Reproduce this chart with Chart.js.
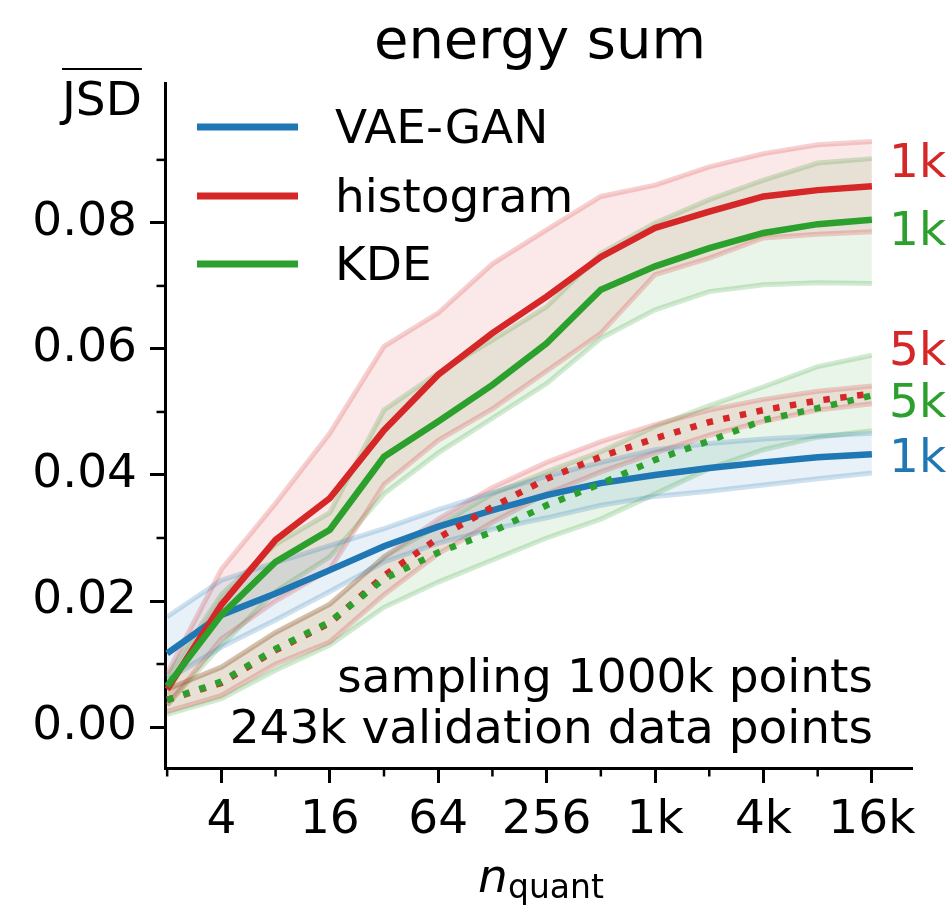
<!DOCTYPE html>
<html>
<head>
<meta charset="utf-8">
<script src="https://cdn.jsdelivr.net/npm/chart.js@4.4.1/dist/chart.umd.min.js"></script>
<style>
  body { margin: 0; background: #fff; }
  canvas { display: block; }
</style>
</head>
<body>
<canvas id="chart" width="947" height="905"></canvas>
<script>
// n_quant values (powers of two)
const nQuant = [2, 4, 8, 16, 32, 64, 128, 256, 512, 1024, 2048, 4096, 8192, 16384];

// VAE-GAN, 1k
const vaeMean  = [0.0117, 0.0178, 0.0212, 0.0249, 0.0287, 0.0318, 0.0344, 0.0368, 0.0387, 0.0400, 0.0411, 0.0420, 0.0428, 0.0433];
const vaeUpper = [0.0175, 0.0233, 0.0261, 0.0288, 0.0315, 0.0345, 0.0372, 0.0398, 0.0420, 0.0440, 0.0450, 0.0457, 0.0462, 0.0466];
const vaeLower = [0.0075, 0.0127, 0.0170, 0.0215, 0.0262, 0.0292, 0.0314, 0.0332, 0.0352, 0.0366, 0.0374, 0.0384, 0.0394, 0.0403];

// histogram, 1k
const hist1kMean  = [0.0060, 0.0194, 0.0297, 0.0363, 0.0471, 0.0559, 0.0625, 0.0683, 0.0746, 0.0792, 0.0818, 0.0842, 0.0852, 0.0858];
const hist1kUpper = [0.0085, 0.0250, 0.0355, 0.0466, 0.0604, 0.0657, 0.0735, 0.0789, 0.0842, 0.0860, 0.0889, 0.0910, 0.0924, 0.0929];
const hist1kLower = [0.0035, 0.0140, 0.0200, 0.0250, 0.0385, 0.0455, 0.0505, 0.0565, 0.0625, 0.0718, 0.0744, 0.0776, 0.0782, 0.0786];

// KDE, 1k
const kde1kMean  = [0.0065, 0.0178, 0.0262, 0.0313, 0.0429, 0.0485, 0.0543, 0.0609, 0.0694, 0.0731, 0.0760, 0.0784, 0.0798, 0.0805];
const kde1kUpper = [0.0080, 0.0210, 0.0290, 0.0340, 0.0503, 0.0562, 0.0614, 0.0667, 0.0752, 0.0800, 0.0837, 0.0868, 0.0895, 0.0902];
const kde1kLower = [0.0035, 0.0130, 0.0215, 0.0270, 0.0370, 0.0435, 0.0490, 0.0545, 0.0617, 0.0662, 0.0691, 0.0702, 0.0705, 0.0704];

// histogram, 5k
const hist5kMean  = [0.0043, 0.0070, 0.0122, 0.0165, 0.0240, 0.0300, 0.0349, 0.0394, 0.0429, 0.0458, 0.0484, 0.0503, 0.0518, 0.0529];
const hist5kUpper = [0.0060, 0.0095, 0.0150, 0.0195, 0.0270, 0.0330, 0.0380, 0.0420, 0.0453, 0.0480, 0.0503, 0.0520, 0.0533, 0.0541];
const hist5kLower = [0.0025, 0.0050, 0.0100, 0.0135, 0.0210, 0.0275, 0.0325, 0.0370, 0.0405, 0.0435, 0.0463, 0.0485, 0.0503, 0.0513];

// KDE, 5k
const kde5kMean  = [0.0043, 0.0072, 0.0124, 0.0167, 0.0235, 0.0277, 0.0310, 0.0352, 0.0386, 0.0424, 0.0454, 0.0487, 0.0506, 0.0526];
const kde5kUpper = [0.0060, 0.0095, 0.0150, 0.0195, 0.0270, 0.0320, 0.0370, 0.0405, 0.0437, 0.0477, 0.0510, 0.0540, 0.0572, 0.0590];
const kde5kLower = [0.0020, 0.0045, 0.0090, 0.0130, 0.0190, 0.0230, 0.0265, 0.0300, 0.0330, 0.0370, 0.0410, 0.0440, 0.0460, 0.0470];

// ticks
const xTickExps   = [2, 4, 6, 8, 10, 12, 14];
const xTickLabels = ['4', '16', '64', '256', '1k', '4k', '16k'];
const yTickValues = [0, 0.02, 0.04, 0.06, 0.08];
const legendLabels = ['VAE-GAN', 'histogram', 'KDE'];
const endLabels = ['1k', '1k', '5k', '5k', '1k'];

const BLUE = '31, 119, 180';
const RED = '214, 39, 40';
const GREEN = '44, 160, 44';
const FONT = '"DejaVu Sans", sans-serif';
const FS = 47;

const pts = arr => arr.map((v, i) => ({ x: Math.log2(nQuant[i]), y: v }));

function band(upper, lower, rgb) {
    return [
        { data: pts(upper), borderColor: `rgba(${rgb}, 0.22)`, backgroundColor: `rgba(${rgb}, 0.1)`,
          borderWidth: 5, fill: '+1', order: 10 },
        { data: pts(lower), borderColor: `rgba(${rgb}, 0.22)`, backgroundColor: 'transparent',
          borderWidth: 5, fill: false, order: 10 }
    ];
}

const datasets = [
    ...band(vaeUpper, vaeLower, BLUE),
    ...band(hist1kUpper, hist1kLower, RED),
    ...band(hist5kUpper, hist5kLower, RED),
    ...band(kde1kUpper, kde1kLower, GREEN),
    ...band(kde5kUpper, kde5kLower, GREEN),
    { data: pts(vaeMean), borderColor: `rgb(${BLUE})`, borderWidth: 6.5, fill: false, order: 5 },
    { data: pts(hist1kMean), borderColor: `rgb(${RED})`, borderWidth: 6.5, fill: false, order: 4 },
    { data: pts(hist5kMean), borderColor: `rgb(${RED})`, borderWidth: 6.5, borderDash: [6.5, 10.5], fill: false, order: 3 },
    { data: pts(kde1kMean), borderColor: `rgb(${GREEN})`, borderWidth: 6.5, fill: false, order: 2 },
    { data: pts(kde5kMean), borderColor: `rgb(${GREEN})`, borderWidth: 6.5, borderDash: [6.5, 10.5], fill: false, order: 1 }
];

// text, legend and minor ticks
const decorations = {
    id: 'decorations',
    afterDraw(chart) {
        const ctx = chart.ctx;
        const xs = chart.scales.x, ys = chart.scales.y;
        const area = chart.chartArea;
        ctx.save();
        ctx.fillStyle = '#000';
        ctx.strokeStyle = '#000';

        // minor ticks
        ctx.lineWidth = 2.5;
        for (let e = 1; e <= 13; e += 2) {
            const px = xs.getPixelForValue(e);
            ctx.beginPath(); ctx.moveTo(px, area.bottom); ctx.lineTo(px, area.bottom + 8.5); ctx.stroke();
        }
        for (let v = 0.01; v < 0.1; v += 0.02) {
            const py = ys.getPixelForValue(v);
            ctx.beginPath(); ctx.moveTo(area.left, py); ctx.lineTo(area.left - 8.5, py); ctx.stroke();
        }

        // title
        ctx.font = `56px ${FONT}`;
        ctx.textAlign = 'center';
        ctx.textBaseline = 'alphabetic';
        ctx.fillText('energy sum', 540, 58);

        // y label with overline
        ctx.font = `${FS}px ${FONT}`;
        ctx.textAlign = 'left';
        ctx.fillText('JSD', 62, 115);
        const w = ctx.measureText('JSD').width;
        ctx.lineWidth = 2;
        ctx.beginPath(); ctx.moveTo(62, 69); ctx.lineTo(62 + w, 69); ctx.stroke();

        // x label
        ctx.font = `italic ${FS}px ${FONT}`;
        ctx.fillText('n', 478, 892);
        ctx.font = `33px ${FONT}`;
        ctx.fillText('quant', 508, 898);

        // legend
        const legendColors = [BLUE, RED, GREEN];
        const legendY = [127, 196, 264];
        legendLabels.forEach((lab, i) => {
            ctx.strokeStyle = `rgb(${legendColors[i]})`;
            ctx.lineWidth = 7;
            ctx.beginPath(); ctx.moveTo(197, legendY[i]); ctx.lineTo(298, legendY[i]); ctx.stroke();
            ctx.fillStyle = '#000';
            ctx.font = `${FS}px ${FONT}`;
            ctx.fillText(lab, 335, legendY[i] + 16);
        });

        // annotation
        ctx.textAlign = 'right';
        ctx.fillText('sampling 1000k points', 873, 692);
        ctx.fillText('243k validation data points', 873, 743);

        // end labels
        const endColors = [RED, GREEN, RED, GREEN, BLUE];
        const endY = [177, 245, 365, 417, 472];
        ctx.textAlign = 'left';
        endLabels.forEach((lab, i) => {
            ctx.fillStyle = `rgb(${endColors[i]})`;
            ctx.fillText(lab, 889, endY[i]);
        });
        ctx.restore();
    }
};

new Chart(document.getElementById('chart'), {
    type: 'line',
    data: { datasets: datasets },
    options: {
        responsive: false,
        animation: false,
        devicePixelRatio: 1,
        layout: { padding: { top: 83, right: 35, left: 0, bottom: 0 } },
        elements: { point: { radius: 0 }, line: { tension: 0, borderCapStyle: 'butt' } },
        plugins: { legend: { display: false }, tooltip: { enabled: false } },
        scales: {
            x: {
                type: 'linear',
                min: 0.96,
                max: 14.74,
                border: { display: true, color: '#000', width: 3 },
                grid: { display: true, drawOnChartArea: false, drawTicks: true, tickLength: 15, tickWidth: 3, tickColor: '#000' },
                ticks: {
                    font: { family: 'DejaVu Sans', size: FS },
                    color: '#000',
                    padding: 10,
                    maxRotation: 0,
                    autoSkip: false,
                    callback: v => xTickLabels[xTickExps.indexOf(v)]
                },
                afterBuildTicks: axis => { axis.ticks = xTickExps.map(v => ({ value: v })); },
                afterFit: s => { s.height = 137; }
            },
            y: {
                min: -0.0065,
                max: 0.1022,
                border: { display: true, color: '#000', width: 3 },
                grid: { display: true, drawOnChartArea: false, drawTicks: true, tickLength: 15, tickWidth: 3, tickColor: '#000' },
                ticks: {
                    font: { family: 'DejaVu Sans', size: FS },
                    color: '#000',
                    padding: 13,
                    callback: v => v.toFixed(2)
                },
                afterBuildTicks: axis => { axis.ticks = yTickValues.map(v => ({ value: v })); },
                afterFit: s => { s.width = 165; }
            }
        }
    },
    plugins: [decorations]
});
</script>
</body>
</html>
